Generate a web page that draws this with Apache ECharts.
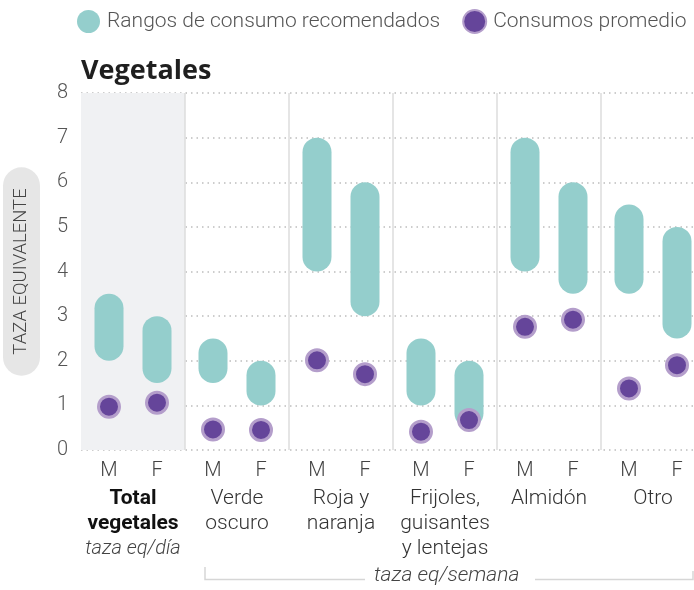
<!DOCTYPE html>
<html>
<head>
<meta charset="utf-8">
<script src="https://cdn.jsdelivr.net/npm/echarts@6/dist/echarts.min.js"></script>
<style>
  html, body { margin: 0; padding: 0; background: #fff; }
  #chart { width: 694px; height: 590px; }
</style>
</head>
<body>
<div id="chart"></div>
<script>
// data
const groups = ['Total\nvegetales', 'Verde\noscuro', 'Roja y\nnaranja', 'Frijoles,\nguisantes\ny lentejas', 'Almidón', 'Otro']
const groupUnits = ['taza eq/día', '', '', '', '', '']
const sexLabels = ['M', 'F']
const rangeLowM = [2, 1.5, 4, 1, 4, 3.5]
const rangeHighM = [3.5, 2.5, 7, 2.5, 7, 5.5]
const rangeLowF = [1.5, 1, 3, 0.5, 3.5, 2.5]
const rangeHighF = [3, 2, 6, 2, 6, 5]
const avgM = [0.97, 0.46, 2.01, 0.41, 2.76, 1.38]
const avgF = [1.06, 0.45, 1.7, 0.67, 2.92, 1.9]
const yTicks = [0, 1, 2, 3, 4, 5, 6, 7, 8]

const TEAL = '#94cecc'
const PURPLE = '#65459a'
const PURPLE_RING = '#b49ecb'
const FONT = 'Roboto'
const OFFSET = 24 // px between group centre and M / F column

const myChart = echarts.init(document.getElementById('chart'))

function capsule(offset) {
	return function (params, api) {
		const top = api.coord([api.value(0), api.value(2)])
		const bot = api.coord([api.value(0), api.value(1)])
		const w = 29
		return {
			type: 'rect',
			shape: { x: top[0] + offset - w / 2, y: top[1], width: w, height: bot[1] - top[1], r: w / 2 },
			style: { fill: TEAL },
		}
	}
}

const rangeM = groups.map((g, i) => [i, rangeLowM[i], rangeHighM[i]])
const rangeF = groups.map((g, i) => [i, rangeLowF[i], rangeHighF[i]])

const option = {
	backgroundColor: '#fff',
	textStyle: { fontFamily: FONT },
	title: {
		text: 'Vegetales',
		left: 76,
		top: 53,
		textStyle: { fontFamily: 'Open Sans', fontWeight: 'bold', fontSize: 27, color: '#1f1f1f' },
	},
	legend: {
		left: 77,
		top: 9,
		padding: 0,
		width: 617,
		itemWidth: 23,
		itemHeight: 23,
		itemGap: 22,
		icon: 'circle',
		data: ['Rangos de consumo recomendados', 'Consumos promedio'],
		textStyle: { fontSize: 21, fontWeight: 300, color: '#555', padding: [0, 0, 0, 2] },
	},
	grid: { left: 81, top: 93, width: 624, height: 357, outerBoundsMode: 'none' },
	xAxis: {
		type: 'category',
		data: groups,
		boundaryGap: true,
		axisLine: { show: false },
		axisTick: { show: false },
		splitLine: { show: true, showMinLine: false, lineStyle: { color: '#dcdcdc', width: 1.5, type: 'solid' } },
		splitArea: {
			show: true,
			areaStyle: { color: ['#f0f1f3', 'rgba(0,0,0,0)', 'rgba(0,0,0,0)', 'rgba(0,0,0,0)', 'rgba(0,0,0,0)', 'rgba(0,0,0,0)'] },
		},
		axisLabel: {
			interval: 0,
			margin: 6,
			formatter: function (value, idx) {
				const style = idx === 0 ? 'b' : 'n'
				let s = '{m|' + sexLabels[0] + '}{f|' + sexLabels[1] + '}'
				value.split('\n').forEach((line) => { s += '\n{' + style + '|' + line + '}' })
				if (groupUnits[idx]) s += '\n{u|' + groupUnits[idx] + '}'
				return s
			},
			rich: {
				m: { width: 48, align: 'center', fontSize: 20, fontWeight: 300, color: '#444', lineHeight: 30 },
				f: { width: 48, align: 'center', fontSize: 20, fontWeight: 300, color: '#444', lineHeight: 30 },
				n: { fontSize: 21, fontWeight: 300, color: '#333', lineHeight: 25 },
				b: { fontSize: 21, fontWeight: 'bold', color: '#111', lineHeight: 25 },
				u: { fontSize: 20, fontStyle: 'italic', fontWeight: 300, color: '#444', lineHeight: 25 },
			},
		},
	},
	yAxis: {
		type: 'value',
		min: yTicks[0],
		max: yTicks[yTicks.length - 1],
		interval: 1,
		name: 'TAZA EQUIVALENTE',
		nameLocation: 'middle',
		nameRotate: 90,
		nameGap: 41,
		nameTextStyle: {
			fontSize: 18.5,
			color: '#444',
			fontWeight: 300,
			backgroundColor: '#e6e6e6',
			borderRadius: 19,
			padding: [9, 21, 9, 21],
		},
		axisLine: { show: false },
		axisTick: { show: false },
		axisLabel: { margin: 13, fontSize: 20, fontWeight: 300, color: '#555' },
		splitLine: { show: true, lineStyle: { type: [1.5, 4], color: '#bdbdbd', width: 1.5 } },
	},
	series: [
		{
			name: 'Rangos de consumo recomendados',
			type: 'custom',
			renderItem: capsule(-OFFSET),
			itemStyle: { color: TEAL },
			encode: { x: 0, y: [1, 2] },
			data: rangeM,
			z: 2,
		},
		{
			name: 'Rangos de consumo recomendados',
			type: 'custom',
			renderItem: capsule(OFFSET),
			itemStyle: { color: TEAL },
			encode: { x: 0, y: [1, 2] },
			data: rangeF,
			z: 2,
		},
		{
			name: 'Consumos promedio',
			type: 'scatter',
			symbolSize: 21,
			symbolOffset: [-OFFSET, 0],
			itemStyle: { color: PURPLE, borderColor: PURPLE_RING, borderWidth: 3, opacity: 1 },
			data: avgM,
			z: 3,
		},
		{
			name: 'Consumos promedio',
			type: 'scatter',
			symbolSize: 21,
			symbolOffset: [OFFSET, 0],
			itemStyle: { color: PURPLE, borderColor: PURPLE_RING, borderWidth: 3, opacity: 1 },
			data: avgF,
			z: 3,
		},
	],
	graphic: [
		{
			type: 'polyline',
			shape: { points: [[205, 567], [205, 579.5], [365, 579.5]] },
			style: { stroke: '#d6d6d6', lineWidth: 1.5, fill: null },
		},
		{
			type: 'polyline',
			shape: { points: [[535, 579.5], [693, 579.5], [693, 571]] },
			style: { stroke: '#d6d6d6', lineWidth: 1.5, fill: null },
		},
		{
			type: 'text',
			left: 374,
			top: 565,
			style: { text: 'taza eq/semana', fontFamily: FONT, fontSize: 21, fontStyle: 'italic', fontWeight: 300, fill: '#444' },
		},
	],
}

myChart.setOption(option)
</script>
</body>
</html>
